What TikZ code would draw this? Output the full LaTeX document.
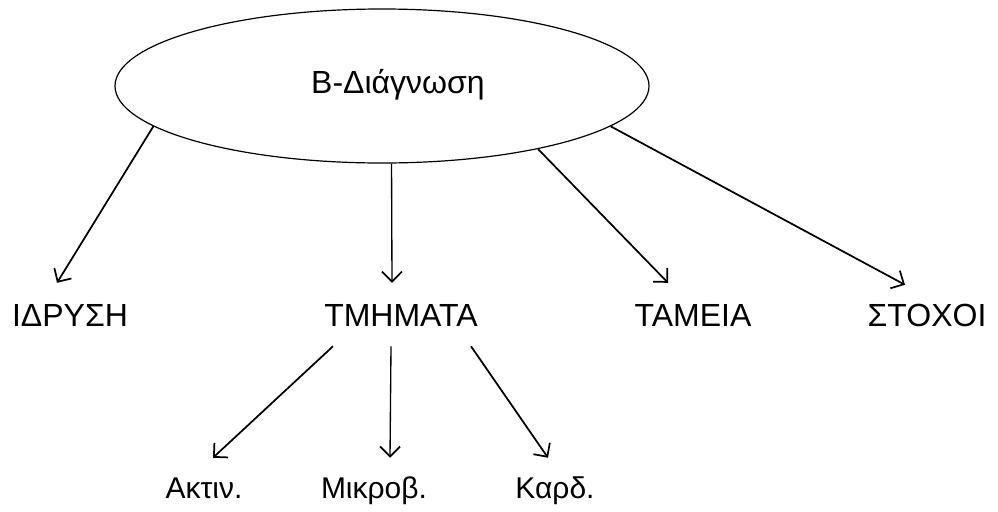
\documentclass[tikz,border=0pt]{standalone}
\usepackage{fontspec}
\setmainfont{Liberation Sans}
\usetikzlibrary{shapes.geometric,arrows.meta}

\begin{document}
\begin{tikzpicture}[x=0.75pt, y=-0.75pt,
    every node/.style={font=\fontsize{24}{28}\selectfont, inner xsep=0pt},
    top/.style={inner ysep=15pt, text height=17.2pt, text depth=0pt, anchor=base},
    sub/.style={font=\fontsize{22.5}{26}\selectfont, inner ysep=14pt, text height=16pt, text depth=0pt, anchor=base},
    arr/.style={line width=1.3pt, -{Straight Barb[length=7.5pt, width=15pt, line width=1.3pt]}}]
  \useasboundingbox (0,0) rectangle (998,511);
  % root
  \node[draw, line width=0.9pt, ellipse, minimum width=400.5pt, minimum height=115.5pt, inner sep=0pt] (root) at (382,86) {};
  \node[anchor=base] (rootlbl) at (398,93) {Β-Διάγνωση};
  % first level
  \node[top] (idr) at (70,326) {ΙΔΡΥΣΗ};
  \node[top] (tm) at (401,326) {ΤΜΗΜΑΤΑ};
  \node[top] (tam) at (693,326) {ΤΑΜΕΙΑ};
  \node[top] (sto) at (927,326) {ΣΤΟΧΟΙ};
  \draw[arr] (root.190) -- ([xshift=-9.75pt]idr.north);
  \draw[arr, line width=1pt] (root.277.6) -- ([xshift=-6.75pt]tm.north);
  \draw[arr] (root.338) -- ([xshift=-18.75pt]tam.north);
  \draw[arr] (root.350) -- ([xshift=-16.5pt,yshift=-1.5pt]sto.north);
  % second level
  \node[sub] (akt) at (204,498) {Ακτιν.};
  \node[sub] (mik) at (374,498) {Μικροβ.};
  \node[sub] (kar) at (555,498) {Καρδ.};
  \draw[arr] ([xshift=-51pt]tm.south) -- ([xshift=6.75pt]akt.north);
  \draw[arr, line width=1pt] ([xshift=-7.5pt]tm.south) -- ([xshift=12pt]mik.north);
  \draw[arr] ([xshift=52.5pt]tm.south) -- ([xshift=-5.25pt]kar.north);
\end{tikzpicture}
\end{document}
